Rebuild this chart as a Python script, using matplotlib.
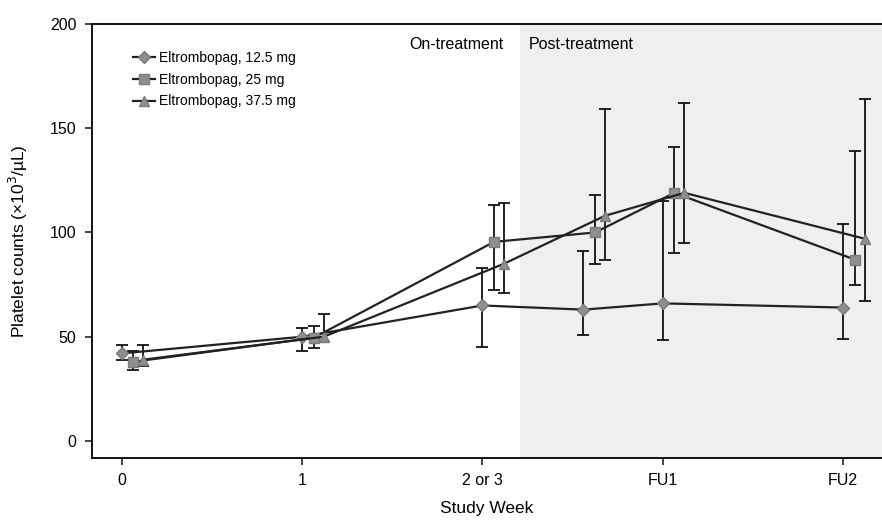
import matplotlib
matplotlib.use("Agg")
import matplotlib.pyplot as plt
import numpy as np

# === Daten ===
weeks = [0, 1, 2, 2.56, 3, 4]
tick_pos = [0, 1, 2, 3, 4]
tick_labels = ["0", "1", "2 or 3", "FU1", "FU2"]

labels = ["Eltrombopag, 12.5 mg", "Eltrombopag, 25 mg", "Eltrombopag, 37.5 mg"]

d_mean = [42, 50, 65, 63, 66, 64]
d_lo = [39, 43, 45, 51, 48.5, 49]
d_hi = [46, 54, 83, 91, 115, 104]

s_mean = [38, 49.5, 95.5, 100, 119, 87]
s_lo = [34, 44.5, 72.5, 85, 90, 75]
s_hi = [43, 55, 113, 118, 141, 139]

t_mean = [39, 50, 85, 108, 119, 97]
t_lo = [36, 47.5, 71, 87, 95, 67]
t_hi = [46, 61, 114, 159, 162, 164]

post_start = 2.21

# === Stil ===
plt.rcParams["font.family"] = ["Liberation Sans", "DejaVu Sans"]

fig = plt.figure(figsize=(8.82, 5.2), dpi=100)
ax = fig.add_axes([0.104, 0.119, 0.896, 0.835])

ax.axvspan(post_start, 5, color="#efefef", zorder=0, lw=0)

series = [
    (d_mean, d_lo, d_hi, "D", 0.0, 6.5),
    (s_mean, s_lo, s_hi, "s", 0.065, 7),
    (t_mean, t_lo, t_hi, "^", 0.12, 7.5),
]

for (mean, lo, hi, marker, off, ms), lab in zip(series, labels):
    x = np.array(weeks) + off
    mean = np.array(mean)
    yerr = [mean - np.array(lo), np.array(hi) - mean]
    ax.errorbar(x, mean, yerr=yerr, fmt="none", ecolor="#111111",
                elinewidth=1.3, capsize=4, capthick=1.3, zorder=2)
    ax.plot(x, mean, color="#222222", lw=1.6, marker=marker, ms=ms,
            markerfacecolor="#8f8f8f", markeredgecolor="#7a7a7a",
            label=lab, zorder=3)

ax.set_xlim(-0.166, 4.216)
ax.set_ylim(-8.2, 200)
ax.set_yticks([0, 50, 100, 150, 200])
ax.set_xticks(tick_pos)
ax.set_xticklabels(tick_labels)
ax.tick_params(axis="both", labelsize=11.5, length=5, width=1.2, color="#222222")
ax.tick_params(axis="x", pad=6)
ax.tick_params(axis="y", pad=6)

ax.spines["right"].set_visible(False)
for s in ["left", "top", "bottom"]:
    ax.spines[s].set_linewidth(1.4)
    ax.spines[s].set_color("#111111")

ax.set_xlabel("Study Week", fontsize=12.5, labelpad=9)
ax.set_ylabel("Platelet counts (×10$^3$/µL)", fontsize=12.5, labelpad=14)

ax.text(post_start - 0.09, 190, "On-treatment", ha="right", va="center", fontsize=11.5)
ax.text(post_start + 0.05, 190, "Post-treatment", ha="left", va="center", fontsize=11.5)

ax.legend(loc="upper left", bbox_to_anchor=(0.045, 0.95), frameon=False,
          fontsize=10, handlelength=1.6, handletextpad=0.3, labelspacing=0.55,
          borderaxespad=0)

fig.savefig("out.png", dpi=100)
plt.close(fig)
